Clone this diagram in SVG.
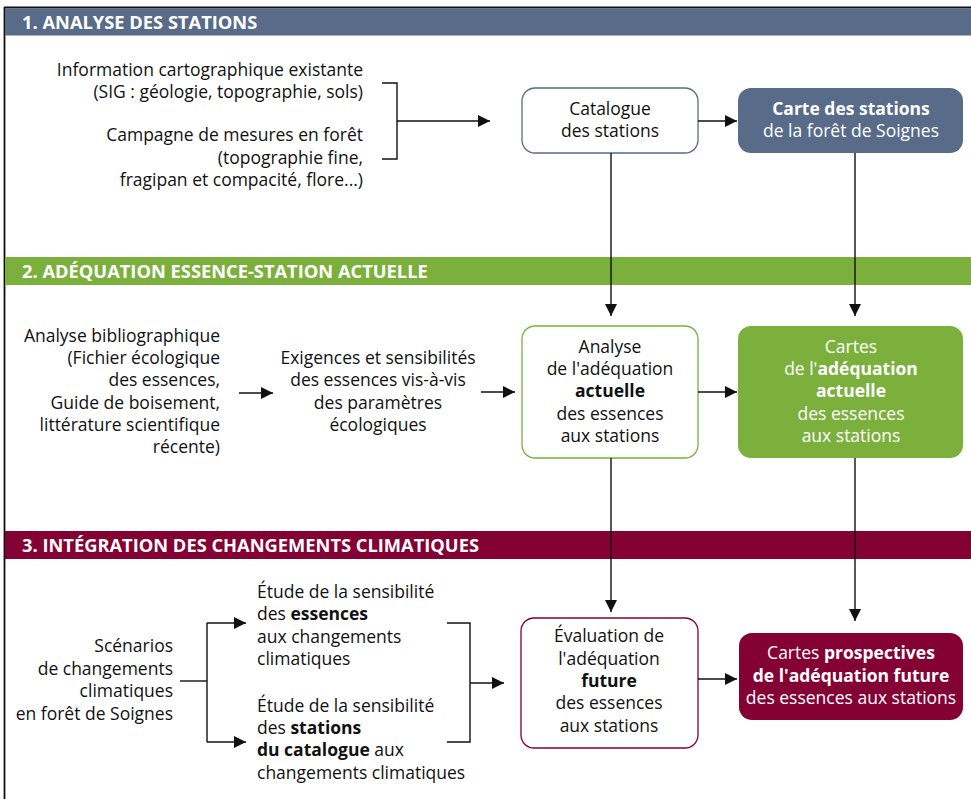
<svg xmlns="http://www.w3.org/2000/svg" width="971" height="799" viewBox="0 0 971 799">
<style>
  text { font-family: "Open Sans", "Noto Sans", sans-serif; font-size: 17.5px; fill: #111; }
  .hd { font-weight: bold; fill: #fff; font-size: 18.3px; }
  .c { text-anchor: middle; }
  .r { text-anchor: end; }
  .w { fill: #fff; }
  .b { font-weight: bold; }
  .ln { stroke: #111; stroke-width: 1.4; fill: none; }
</style>
<defs>
  <marker id="ah" viewBox="0 0 12 12" refX="12" refY="6" markerWidth="12" markerHeight="12" markerUnits="userSpaceOnUse" orient="auto">
    <path d="M0,0 L12,6 L0,12 Z" fill="#111"/>
  </marker>
</defs>
<rect x="0" y="0" width="971" height="799" fill="#fff"/>

<!-- frame -->
<g id="frame">
  <line x1="4" y1="7.5" x2="971" y2="7.5" stroke="#111" stroke-width="1.8"/>
  <line x1="4.5" y1="7" x2="4.5" y2="799" stroke="#111" stroke-width="1.8"/>
</g>

<!-- headers -->
<g id="header1">
  <rect x="5" y="8.5" width="966" height="27" fill="#586b88"/>
  <text class="hd" x="22" y="28.5">1. ANALYSE DES STATIONS</text>
</g>
<g id="header2">
  <rect x="5" y="257" width="966" height="28" fill="#7bb03c"/>
  <text class="hd" x="22" y="277.5">2. ADÉQUATION ESSENCE-STATION ACTUELLE</text>
</g>
<g id="header3">
  <rect x="5" y="531" width="966" height="28" fill="#840133"/>
  <text class="hd" x="22" y="551.5">3. INTÉGRATION DES CHANGEMENTS CLIMATIQUES</text>
</g>

<!-- section 1 -->
<g id="info-carto">
  <text class="r" x="363" y="76">Information cartographique existante</text>
  <text class="r" x="363" y="98">(SIG : géologie, topographie, sols)</text>
</g>
<g id="campagne">
  <text class="r" x="363" y="141">Campagne de mesures en forêt</text>
  <text class="r" x="363" y="164">(topographie fine,</text>
  <text class="r" x="363" y="186">fragipan et compacité, flore...)</text>
</g>
<g id="catalogue">
  <rect x="522" y="88" width="176" height="65" rx="13" fill="#fff" stroke="#586b88" stroke-width="1.3"/>
  <text class="c" x="610" y="115">Catalogue</text>
  <text class="c" x="610" y="137">des stations</text>
</g>
<g id="carte-stations">
  <rect x="738" y="88" width="225" height="65" rx="13" fill="#586b88"/>
  <text class="c w b" x="851" y="115">Carte des stations</text>
  <text class="c w" x="851" y="137">de la forêt de Soignes</text>
</g>

<!-- section 2 -->
<g id="biblio">
  <text class="r" x="220" y="342">Analyse bibliographique</text>
  <text class="r" x="220" y="364">(Fichier écologique</text>
  <text class="r" x="220" y="386">des essences,</text>
  <text class="r" x="220" y="409">Guide de boisement,</text>
  <text class="r" x="220" y="431">littérature scientifique</text>
  <text class="r" x="220" y="453">récente)</text>
</g>
<g id="exigences">
  <text class="c" x="378" y="364">Exigences et sensibilités</text>
  <text class="c" x="378" y="386">des essences vis-à-vis</text>
  <text class="c" x="378" y="409">des paramètres</text>
  <text class="c" x="378" y="431">écologiques</text>
</g>
<g id="analyse-actuelle">
  <rect x="522" y="326" width="176" height="132" rx="13" fill="#fff" stroke="#7bb03c" stroke-width="1.3"/>
  <text class="c" x="610" y="353">Analyse</text>
  <text class="c" x="610" y="375">de l'adéquation</text>
  <text class="c b" x="610" y="397">actuelle</text>
  <text class="c" x="610" y="420">des essences</text>
  <text class="c" x="610" y="442">aux stations</text>
</g>
<g id="cartes-actuelle">
  <rect x="738" y="326" width="225" height="132" rx="13" fill="#7bb03c"/>
  <text class="c w" x="851" y="353">Cartes</text>
  <text class="c w" x="851" y="375">de l'<tspan class="b">adéquation</tspan></text>
  <text class="c w b" x="851" y="397">actuelle</text>
  <text class="c w" x="851" y="420">des essences</text>
  <text class="c w" x="851" y="442">aux stations</text>
</g>

<!-- section 3 -->
<g id="scenarios">
  <text class="r" x="173" y="652">Scénarios</text>
  <text class="r" x="173" y="675">de changements</text>
  <text class="r" x="173" y="697">climatiques</text>
  <text class="r" x="173" y="720">en forêt de Soignes</text>
</g>
<g id="etude-essences">
  <text x="257" y="598">Étude de la sensibilité</text>
  <text x="257" y="620">des <tspan class="b">essences</tspan></text>
  <text x="257" y="643">aux changements</text>
  <text x="257" y="665">climatiques</text>
</g>
<g id="etude-stations">
  <text x="257" y="712">Étude de la sensibilité</text>
  <text x="257" y="734">des <tspan class="b">stations</tspan></text>
  <text x="257" y="756"><tspan class="b">du catalogue</tspan> aux</text>
  <text x="257" y="779">changements climatiques</text>
</g>
<g id="evaluation-future">
  <rect x="521" y="618" width="177" height="130" rx="13" fill="#fff" stroke="#840133" stroke-width="1.3"/>
  <text class="c" x="609" y="642">Évaluation de</text>
  <text class="c" x="609" y="665">l'adéquation</text>
  <text class="c b" x="609" y="687">future</text>
  <text class="c" x="609" y="709">des essences</text>
  <text class="c" x="609" y="732">aux stations</text>
</g>
<g id="cartes-prospectives">
  <rect x="739" y="633" width="224" height="87" rx="13" fill="#840133"/>
  <text class="c w" x="851" y="659">Cartes <tspan class="b">prospectives</tspan></text>
  <text class="c w b" x="851" y="682">de l'adéquation future</text>
  <text class="c w" x="851" y="704">des essences aux stations</text>
</g>

<!-- connectors -->
<g id="connectors">
  <path class="ln" d="M382,83 H397 V159 H382"/>
  <line class="ln" x1="397" y1="121" x2="490" y2="121" marker-end="url(#ah)"/>
  <line class="ln" x1="698" y1="121" x2="737" y2="121" marker-end="url(#ah)"/>
  <line class="ln" x1="611" y1="153" x2="611" y2="316" marker-end="url(#ah)"/>
  <line class="ln" x1="855" y1="153" x2="855" y2="316" marker-end="url(#ah)"/>
  <line class="ln" x1="239" y1="393" x2="273" y2="393" marker-end="url(#ah)"/>
  <line class="ln" x1="481" y1="392" x2="515" y2="392" marker-end="url(#ah)"/>
  <line class="ln" x1="698" y1="392" x2="737" y2="392" marker-end="url(#ah)"/>
  <line class="ln" x1="611" y1="458" x2="611" y2="612" marker-end="url(#ah)"/>
  <line class="ln" x1="855" y1="458" x2="855" y2="621" marker-end="url(#ah)"/>
  <line class="ln" x1="180" y1="681" x2="207" y2="681"/>
  <line class="ln" x1="207" y1="623" x2="207" y2="742"/>
  <line class="ln" x1="207" y1="623" x2="246" y2="623" marker-end="url(#ah)"/>
  <line class="ln" x1="207" y1="742" x2="246" y2="742" marker-end="url(#ah)"/>
  <path class="ln" d="M447,623 H470 V742 H447"/>
  <line class="ln" x1="470" y1="683" x2="504" y2="683" marker-end="url(#ah)"/>
  <line class="ln" x1="698" y1="679" x2="737" y2="679" marker-end="url(#ah)"/>
</g>
</svg>
